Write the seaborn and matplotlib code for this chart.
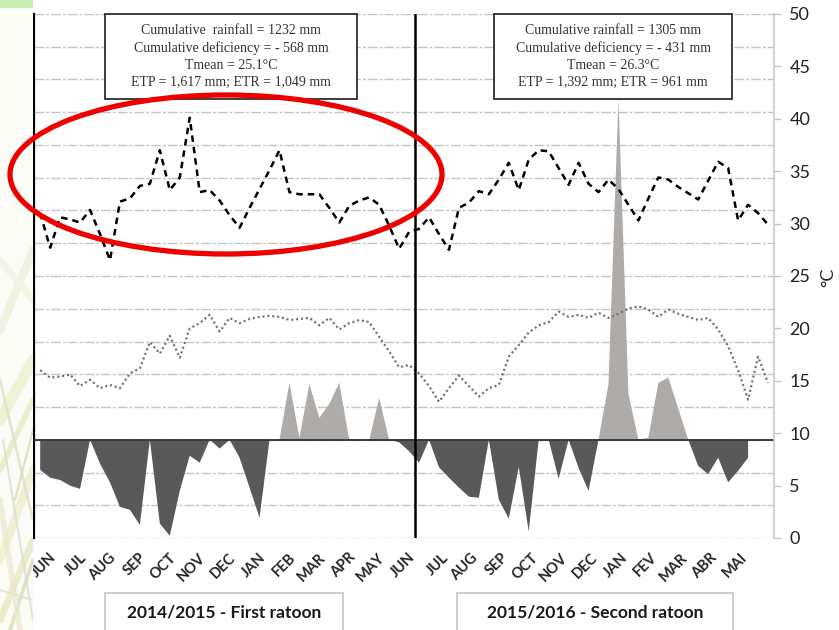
import numpy as np
import pandas as pd
import matplotlib
matplotlib.use("Agg")
import matplotlib.pyplot as plt
import seaborn as sns
from matplotlib.patches import Ellipse, Rectangle
from matplotlib.lines import Line2D

# Ten-day climate series, June 2014 - May 2016
tmax = [31.0, 27.7, 30.6, 30.4, 30.1, 31.3, 29.0, 26.5, 32.1, 32.4,
        33.6, 33.8, 37.0, 33.2, 34.4, 40.1, 33.0, 33.2, 32.2, 30.8,
        29.6, 31.5, 33.3, 35.1, 37.0, 33.0, 32.8, 32.8, 32.8, 31.5,
        30.1, 31.7, 32.2, 32.5, 31.8, 29.8, 27.6, 29.2, 29.5, 30.6,
        29.0, 27.5, 31.5, 32.0, 33.1, 32.8, 34.2, 35.8, 33.2, 36.1,
        37.0, 36.9, 35.3, 33.7, 35.8, 33.8, 33.0, 34.2, 33.3, 31.8,
        30.3, 32.4, 34.4, 34.2, 33.5, 32.9, 32.3, 34.1, 35.9, 35.3,
        30.3, 31.8, 31.0, 29.9]

tmin = [16.0, 15.3, 15.4, 15.6, 14.5, 15.1, 14.3, 14.6, 14.3, 15.7,
        16.2, 18.7, 17.6, 19.3, 17.2, 20.0, 20.5, 21.3, 19.7, 21.0,
        20.5, 20.9, 21.1, 21.2, 21.1, 20.8, 20.9, 21.0, 20.3, 21.0,
        19.9, 20.5, 20.8, 20.6, 19.2, 17.8, 16.3, 16.5, 15.7, 14.5,
        13.0, 14.3, 15.5, 14.5, 13.5, 14.3, 14.6, 17.3, 18.4, 19.6,
        20.3, 20.6, 21.6, 21.1, 21.3, 21.0, 21.5, 21.0, 21.4, 21.9,
        22.1, 21.8, 21.1, 21.8, 21.4, 21.1, 20.8, 21.0, 19.9, 18.3,
        16.0, 13.2, 17.3, 14.8]

# water balance (mm): positive = surplus, negative = deficiency
water_balance = [-9.2, -11.6, -12.3, -14.0, -15.0, 0.0, -7.3, -13.0, -20.5, -21.4,
                 -26.0, 0.0, -25.6, -29.3, -15.6, -4.9, -7.0, 0.0, -2.7, 0.0,
                 -5.5, -14.6, -23.8, 0.0, 0.0, 17.4, 0.6, 17.0, 6.7, 11.0,
                 17.4, 0.0, -0.2, -0.2, 12.8, 0.0, -0.8, -3.5, -7.0, 0.0,
                 -8.4, -11.6, -14.6, -17.4, -17.7, 0.0, -18.3, -24.1, -8.3, -28.0,
                 0.0, 0.0, -11.9, 0.0, -8.6, -15.6, 0.0, 17.0, 104.0, 14.0,
                 0.0, 0.6, 17.4, 19.0, 9.5, 0.0, -8.0, -10.5, -5.5, -13.0,
                 -9.5, -5.5]

months_1 = ["JUN", "JUL", "AUG", "SEP", "OCT", "NOV", "DEC", "JAN", "FEB",
            "MAR", "APR", "MAY", "JUN"]
months_2 = ["JUL", "AUG", "SEP", "OCT", "NOV", "DEC", "JAN", "FEV", "MAR",
            "ABR", "MAI"]
periods = ["2014/2015 - First ratoon", "2015/2016 - Second ratoon"]
summary_1 = ["Cumulative  rainfall = 1232 mm", "Cumulative deficiency = - 568 mm",
             "Tmean = 25.1\u00b0C", "ETP = 1,617 mm; ETR = 1,049 mm"]
summary_2 = ["Cumulative rainfall = 1305 mm", "Cumulative deficiency = - 431 mm",
             "Tmean = 26.3\u00b0C", "ETP = 1,392 mm; ETR = 961 mm"]

W, H = 839, 630
sns.set_theme(style="white")
plt.rcParams["font.family"] = ["Lato", "DejaVu Sans"]

fig = plt.figure(figsize=(W / 100, H / 100), dpi=100)


def fx(x):
    return x / W


def fy(y):
    return 1 - y / H


ax = fig.add_axes([fx(34), fy(538), fx(774) - fx(34), fy(14) - fy(538)])
ax.set_facecolor("white")
ax2 = ax.twinx()

idx_t = np.arange(len(tmax))
idx_w = np.arange(len(water_balance))
wb = np.array(water_balance)

# water balance areas
ax.fill_between(idx_w, wb, 0, where=wb >= 0, interpolate=True,
                color="#afaba9", linewidth=0, zorder=2)
ax.fill_between(idx_w, wb, 0, where=wb <= 0, interpolate=True,
                color="#595959", linewidth=0, zorder=2)
ax.axhline(0, color="#3a3a3a", lw=1.4, zorder=3)

ax.set_ylim(-30, 130)
ax.set_xlim(-0.62, 73.6)
ax.set_yticks(np.arange(-30, 131, 10))
ax.yaxis.grid(True, color="#c4c4c4", lw=1.0, linestyle=(0, (7, 1.5, 2, 1.5)))
ax.set_axisbelow(True)
ax.tick_params(axis="y", left=False, labelleft=False)
for s in ["top", "bottom", "right"]:
    ax.spines[s].set_visible(False)
ax.spines["left"].set_color("black")
ax.spines["left"].set_linewidth(1.6)

# month ticks
pos = [0.9 + 3 * k for k in range(len(months_1))] + [40.2 + 3 * k for k in range(len(months_2))]
ax.set_xticks(pos)
ax.set_xticklabels(months_1 + months_2, rotation=45, ha="right",
                   rotation_mode="anchor", fontsize=10.5, fontweight="bold",
                   color="#262626")
ax.tick_params(axis="x", bottom=False, pad=3)

# temperatures on the right scale
sns.lineplot(x=idx_t, y=tmax, ax=ax2, color="black", linewidth=1.8,
             linestyle=(0, (2.6, 2.0)))
sns.lineplot(x=idx_t, y=tmin, ax=ax2, color="#6e6e6e", linewidth=1.6,
             linestyle=(0, (0.9, 1.3)))
ax2.axvline(37.6, color="black", lw=1.8, zorder=5)
ax2.set_ylim(0, 50)
ax2.set_yticks(np.arange(0, 51, 5))
ax2.set_ylabel("")
ax2.grid(False)
ax2.tick_params(axis="y", right=True, length=5, width=1, color="#c4c4c4",
                labelsize=13, labelcolor="#222222", pad=6)
for s in ["top", "bottom", "left"]:
    ax2.spines[s].set_visible(False)
ax2.spines["right"].set_color("#c8c8c8")
ax2.spines["right"].set_linewidth(1.2)

fig.text(fx(828), fy(277), "\u00b0C", rotation=90, ha="center", va="center",
         fontsize=13, color="#222222")

# summary boxes
for (x0, x1), lines in [((105, 357), summary_1), ((494, 732), summary_2)]:
    fig.add_artist(Rectangle((fx(x0), fy(99)), fx(x1 - x0), fy(14) - fy(99),
                             transform=fig.transFigure, facecolor="white",
                             edgecolor="#2e2e2e", lw=1.3, zorder=6))
    for k, line in enumerate(lines):
        fig.text(fx((x0 + x1) / 2), fy(31 + 17.3 * k), line, ha="center", va="center",
                 fontsize=10, family="Liberation Serif", color="#333333", zorder=7)

# period labels
for (x0, x1), label in [((105, 343), periods[0]), ((457, 733), periods[1])]:
    fig.add_artist(Rectangle((fx(x0), fy(660)), fx(x1 - x0), fy(593) - fy(660),
                             transform=fig.transFigure, facecolor="white",
                             edgecolor="#cccccc", lw=1.4, zorder=6))
    fig.text(fx((x0 + x1) / 2), fy(613), label, ha="center", va="center",
             fontsize=12.5, fontweight="bold", color="#1a1a1a", zorder=7)

# faint leaf texture strip along the left edge
strip = Rectangle((0, 0), fx(33), 1, transform=fig.transFigure,
                  facecolor="#fcfcf6", edgecolor="none", zorder=8)
fig.add_artist(strip)
fig.add_artist(Rectangle((0, fy(8)), fx(33), fy(0) - fy(8), transform=fig.transFigure,
                         facecolor="#c6efb2", edgecolor="none", zorder=8.5))
leaf_strokes = [((0, 330), (33, 250), "#f0f0dc", 6), ((0, 420), (33, 360), "#eef0d0", 8),
                ((0, 470), (33, 400), "#e8eac6", 4), ((0, 560), (33, 470), "#ecedcc", 6),
                ((0, 620), (33, 540), "#e6e8c0", 5), ((3, 440), (33, 620), "#dcdcd4", 1.5),
                ((0, 380), (33, 520), "#dee0cc", 2), ((10, 630), (33, 560), "#dadcb8", 2.5),
                ((0, 500), (20, 630), "#ece8d2", 4), ((0, 260), (33, 300), "#f3f3e6", 5),
                ((15, 500), (33, 430), "#d6dab4", 1.5), ((0, 590), (33, 600), "#e0e0d6", 1.5)]
for (x0, y0), (x1, y1), c, w in leaf_strokes:
    ln = Line2D([fx(x0), fx(x1)], [fy(y0), fy(y1)], transform=fig.transFigure,
                color=c, lw=w, alpha=0.8, zorder=8.2, solid_capstyle="round")
    fig.add_artist(ln)
    ln.set_clip_path(strip)

# highlight around the first-season maximum temperatures
fig.add_artist(Ellipse((fx(226), fy(174.5)), fx(432), 159 / H, transform=fig.transFigure,
                       fill=False, edgecolor="#ee0000", lw=3.8, zorder=10))

fig.savefig("out.png", dpi=100)
